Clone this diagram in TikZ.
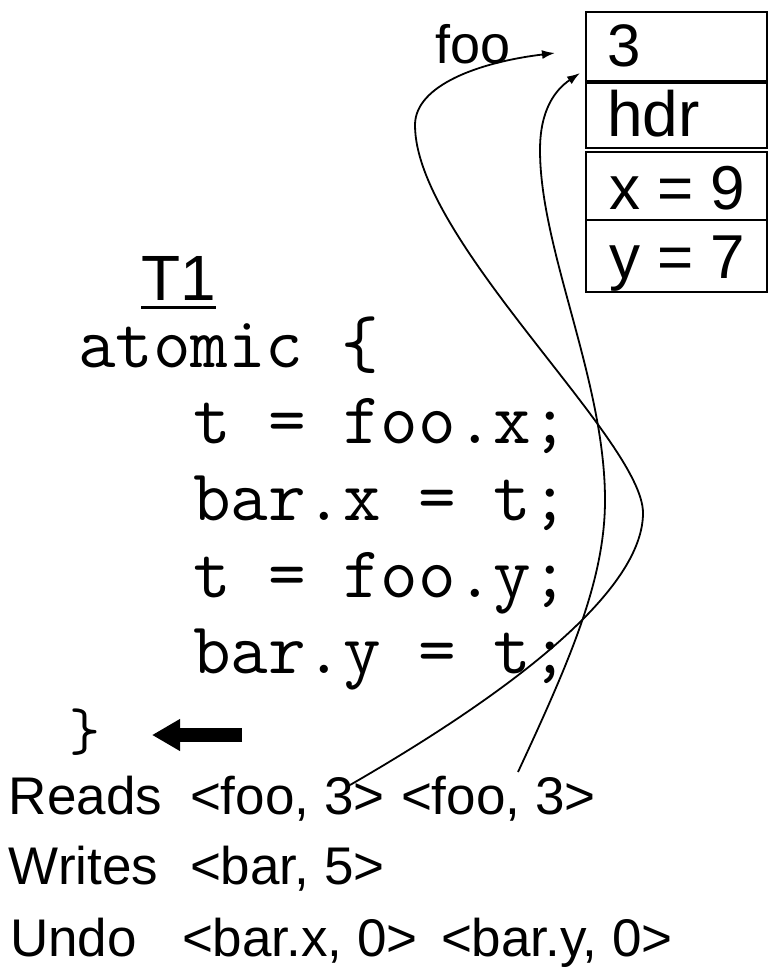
\documentclass[tikz,border=0pt]{standalone}
\usepackage{fontspec}
\setmainfont{Liberation Sans}
\usetikzlibrary{arrows.meta}
\begin{document}
\begin{tikzpicture}[x=1pt,y=-1pt,
  lbl/.style={anchor=base west, inner sep=0pt, outer sep=0pt},
  big/.style={lbl, font=\fontsize{53}{60}\selectfont},
  cellfont/.style={lbl, font=\fontsize{62}{70}\selectfont},
  code/.style={lbl, font=\ttfamily\fontsize{73}{80}\selectfont},
  cell/.style={draw, line width=2.5pt, anchor=north west, inner sep=0pt, outer sep=0pt, minimum width=181pt},
  ptr/.style={line width=1.8pt, -{Latex[length=13pt,width=9pt]}},
  fat/.style={line width=14pt, -{Triangle[length=28pt,width=30pt]}}
]
\useasboundingbox (0,0) rectangle (769,968);
\fill[white] (0,0) rectangle (769,968);

% memory object
\node[cell, minimum height=69pt] (r1) at (586,12) {};
\node[cell, minimum height=65pt] (r2) at (586,83) {};
\node[cell, minimum height=68pt] (r3) at (586,152) {};
\node[cell, minimum height=72pt] (r4) at (586,220) {};
\node[lbl, font=\fontsize{60}{68}\selectfont] (v1) at (607,67) {3};
\node[lbl, font=\fontsize{64}{72}\selectfont] (v2) at (607,137) {hdr};
\node[cellfont] (v3) at (609,210) {x = 9};
\node[cellfont] (v4) at (609,278) {y = 7};
\node[lbl, font=\fontsize{54}{60}\selectfont] (foo) at (435,64) {foo};

% transaction code
\node[lbl, font=\fontsize{64}{72}\selectfont] (t1) at (141,300) {T1};
\draw[line width=3pt] ([yshift=-7pt]t1.base west) -- ([yshift=-7pt]t1.base east);
\node[code] (l0) at (78,367) {atomic \{};
\node[code] (l1) at (193,443) {t = foo.x;};
\node[code] (l2) at (193,520) {bar.x = t;};
\node[code] (l3) at (193,597) {t = foo.y;};
\node[code] (l4) at (193,673) {bar.y = t;};
\node[lbl, font=\ttfamily\fontsize{60}{68}\selectfont] (l5) at (69,750) {\}};

% current position arrow
\coordinate (fa) at (242,735);
\coordinate (fb) at (152,735);
\draw[fat] (fa) -- (fb);

% logs
\node[big] (reads) at (9,814) {Reads};
\node[big] (rd1) at (190,814) {<foo, 3>};
\node[big] (rd2) at (401,814) {<foo, 3>};
\node[big] (writes) at (9,884) {Writes};
\node[big] (wr1) at (190,884) {<bar, 5>};
\node[big] (undo) at (10,956) {Undo};
\node[big] (ud1) at (182,956) {<bar.x, 0>};
\node[big] (ud2) at (441,956) {<bar.y, 0>};

% read log pointers
\coordinate (sa) at (350,785);
\coordinate (ea) at (555,53);
\coordinate (sb) at (518,772);
\coordinate (eb) at (580,73);
\draw[ptr] (sa) .. controls (480,710) and (643,600) .. (643,513)
               .. controls (643,440) and (415,240) .. (415,125)
               .. controls (415,85) and (480,62) .. (ea);
\draw[ptr] (sb) .. controls (570,660) and (605,580) .. (605,500)
               .. controls (605,380) and (540,250) .. (540,150)
               .. controls (540,110) and (555,90) .. (eb);
\end{tikzpicture}
\end{document}
